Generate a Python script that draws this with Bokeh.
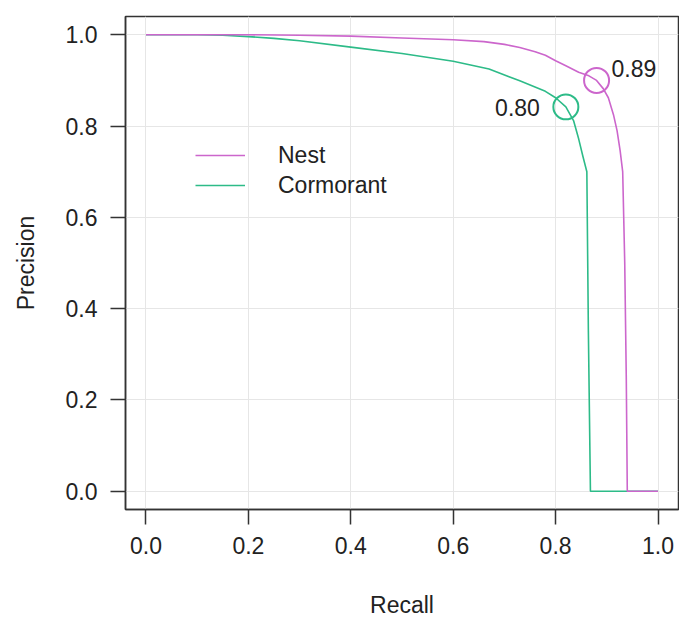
from bokeh.plotting import figure
from bokeh.models import Legend, FixedTicker, ColumnDataSource
from bokeh.core.properties import value
from bokeh.embed import file_html
from bokeh.resources import INLINE

# ---- data ----
nest_recall = [0.0, 0.10, 0.20, 0.30, 0.40, 0.50, 0.60, 0.66, 0.70, 0.73, 0.76, 0.78,
               0.80, 0.82, 0.845, 0.865, 0.88, 0.893, 0.903, 0.913, 0.920, 0.926,
               0.931, 0.935, 0.938, 0.940, 0.97, 1.0]
nest_precision = [1.0, 1.0, 1.0, 0.999, 0.997, 0.993, 0.989, 0.985, 0.979, 0.972, 0.963,
                  0.955, 0.943, 0.932, 0.918, 0.910, 0.900, 0.882, 0.862, 0.825, 0.790,
                  0.746, 0.700, 0.500, 0.250, 0.0, 0.0, 0.0]

corm_recall = [0.0, 0.10, 0.15, 0.20, 0.25, 0.30, 0.40, 0.50, 0.60, 0.67, 0.73, 0.78,
               0.80, 0.82, 0.835, 0.845, 0.853, 0.861, 0.864, 0.868, 0.93, 1.0]
corm_precision = [1.0, 1.0, 0.999, 0.996, 0.992, 0.987, 0.973, 0.959, 0.942, 0.925, 0.899,
                  0.876, 0.862, 0.842, 0.812, 0.772, 0.735, 0.700, 0.350, 0.0, 0.0, 0.0]

best_recall = [0.88, 0.82]
best_precision = [0.900, 0.842]
best_labels = ["0.89", "0.80"]

series_names = ["Nest", "Cormorant"]
series_colors = ["#CC66CC", "#2DBB88"]

ticks = [0.0, 0.2, 0.4, 0.6, 0.8, 1.0]
tick_labels = {t: f"{t:.1f}" for t in ticks}

FONT = "Liberation Sans"
TXT = "#222222"
LINE = "#333333"

p = figure(width=679, height=626, x_range=(-0.04, 1.04), y_range=(-0.04, 1.04),
           output_backend="svg", toolbar_location=None,
           min_border_left=125, min_border_right=1, min_border_top=16, min_border_bottom=117)

p.background_fill_color = "white"
p.border_fill_color = "white"
p.outline_line_color = LINE
p.outline_line_width = 1.5

for ax in (p.xaxis[0], p.yaxis[0]):
    ax.ticker = FixedTicker(ticks=ticks)
    ax.major_label_overrides = tick_labels
    ax.minor_tick_line_color = None
    ax.major_tick_in = 0
    ax.major_tick_out = 15
    ax.major_tick_line_color = LINE
    ax.major_tick_line_width = 1.5
    ax.axis_line_color = LINE
    ax.axis_line_width = 1.5
    ax.major_label_text_font = FONT
    ax.major_label_text_font_size = "23px"
    ax.major_label_text_color = TXT
    ax.axis_label_text_font = FONT
    ax.axis_label_text_font_size = "23px"
    ax.axis_label_text_font_style = "normal"
    ax.axis_label_text_color = TXT

p.xaxis.axis_label = "Recall"
p.yaxis.axis_label = "Precision"
p.xaxis.major_label_standoff = 12
p.yaxis.major_label_standoff = 13
p.xaxis.axis_label_standoff = 35
p.yaxis.axis_label_standoff = 24

p.xgrid.ticker = FixedTicker(ticks=ticks)
p.ygrid.ticker = FixedTicker(ticks=ticks)
p.grid.grid_line_color = "#e6e6e6"
p.grid.grid_line_width = 1

r_corm = p.line(corm_recall, corm_precision, line_color=series_colors[1], line_width=1.6)
r_nest = p.line(nest_recall, nest_precision, line_color=series_colors[0], line_width=1.6)

src = ColumnDataSource(dict(x=best_recall, y=best_precision,
                            c=[series_colors[0], series_colors[1]], t=best_labels))
p.scatter("x", "y", source=src, marker="circle", size=25, fill_color=None,
          line_color="c", line_width=2)

src_n = ColumnDataSource(dict(x=best_recall[:1], y=best_precision[:1], t=best_labels[:1]))
src_c = ColumnDataSource(dict(x=best_recall[1:], y=best_precision[1:], t=best_labels[1:]))
p.text("x", "y", text="t", source=src_n, text_align="left", text_baseline="middle",
       x_offset=15, y_offset=-12, text_font=value(FONT), text_font_size="23px", text_color=TXT)
p.text("x", "y", text="t", source=src_c, text_align="right", text_baseline="middle",
       x_offset=-26, y_offset=1, text_font=value(FONT), text_font_size="23px", text_color=TXT)

legend = Legend(items=[(series_names[0], [r_nest]), (series_names[1], [r_corm])],
                location=(70, 309), margin=0, padding=0, spacing=0,
                glyph_width=50, glyph_height=30, label_height=30, label_standoff=33,
                label_text_font=FONT, label_text_font_size="23px", label_text_color=TXT,
                border_line_alpha=0, background_fill_alpha=0)
p.add_layout(legend, "center")

open("out.html", "w").write(file_html(p, INLINE))
